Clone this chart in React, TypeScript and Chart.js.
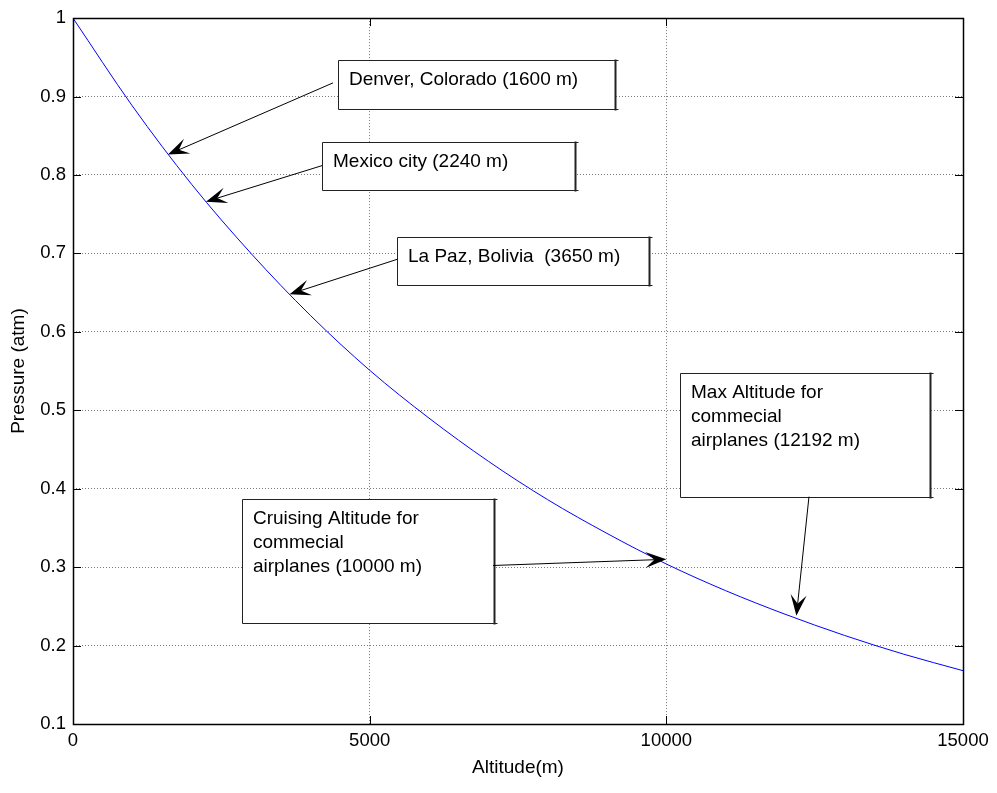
import React, { useEffect, useRef } from "react";
import { Chart, registerables } from "chart.js";

Chart.register(...registerables);

// Standard-atmosphere pressure versus altitude
const altitudeM = [0, 1000, 2000, 3000, 4000, 5000, 6000, 7000, 8000, 9000, 10000, 11000, 12000, 13000, 14000, 15000];
const pressureAtm = [1.0, 0.888, 0.788, 0.7, 0.621, 0.551, 0.49, 0.435, 0.386, 0.343, 0.304, 0.27, 0.24, 0.213, 0.189, 0.168];

const xTicks = [0, 5000, 10000, 15000];
const yTicks = [0.1, 0.2, 0.3, 0.4, 0.5, 0.6, 0.7, 0.8, 0.9, 1];

// Callout texts and the points on the curve they refer to
const calloutTexts = [
  ["Denver, Colorado (1600 m)"],
  ["Mexico city (2240 m)"],
  ["La Paz, Bolivia  (3650 m)"],
  ["Cruising Altitude for", "commecial", "airplanes (10000 m)"],
  ["Max Altitude for", "commecial", "airplanes (12192 m)"],
];
const calloutAltitude = [1600, 2240, 3650, 10000, 12192];
const calloutPressure = [0.826, 0.766, 0.648, 0.31, 0.238];

// Callout box extents and arrow tails, in axis units
const calloutLayout = [
  { x0: 4466, x1: 9135, y0: 0.9466, y1: 0.8843, tx: 4382, ty: 0.9174 },
  { x0: 4197, x1: 8461, y0: 0.8424, y1: 0.7814, tx: 4197, ty: 0.8119 },
  { x0: 5461, x1: 9708, y0: 0.7203, y1: 0.6593, tx: 5461, ty: 0.6924 },
  { x0: 2848, x1: 7096, y0: 0.3873, y1: 0.2284, tx: 7079, ty: 0.3021 },
  { x0: 10230, x1: 14444, y0: 0.5475, y1: 0.3898, tx: 12404, ty: 0.3898 },
];

const FONT_FAMILY = '"Liberation Sans", Arial, Helvetica, sans-serif';
const TICK_SIZE = 18.5;
const TEXT_SIZE = 19;

function drawArrow(ctx: CanvasRenderingContext2D, x0: number, y0: number, x1: number, y1: number) {
  const ang = Math.atan2(y1 - y0, x1 - x0);
  const ux = Math.cos(ang);
  const uy = Math.sin(ang);
  const px = -uy;
  const py = ux;
  const L = 21;
  const W = 8;
  const N = 12;
  ctx.save();
  ctx.strokeStyle = "#000";
  ctx.fillStyle = "#000";
  ctx.lineWidth = 1;
  ctx.beginPath();
  ctx.moveTo(x0, y0);
  ctx.lineTo(x1 - ux * N, y1 - uy * N);
  ctx.stroke();
  ctx.beginPath();
  ctx.moveTo(x1, y1);
  ctx.lineTo(x1 - ux * L + px * W, y1 - uy * L + py * W);
  ctx.lineTo(x1 - ux * N, y1 - uy * N);
  ctx.lineTo(x1 - ux * L - px * W, y1 - uy * L - py * W);
  ctx.closePath();
  ctx.fill();
  ctx.restore();
}

const calloutPlugin = {
  id: "callouts",
  afterDatasetsDraw(chart: any) {
    const { ctx, scales } = chart;
    const xs = scales.x;
    const ys = scales.y;
    calloutTexts.forEach((lines, i) => {
      const b = calloutLayout[i];
      const left = Math.round(xs.getPixelForValue(b.x0)) + 0.5;
      const right = Math.round(xs.getPixelForValue(b.x1)) + 0.5;
      const top = Math.round(ys.getPixelForValue(b.y0)) + 0.5;
      const bottom = Math.round(ys.getPixelForValue(b.y1)) + 0.5;
      ctx.save();
      ctx.fillStyle = "#fff";
      ctx.fillRect(left, top, right - left, bottom - top);
      ctx.strokeStyle = "#222";
      ctx.lineWidth = 1;
      ctx.beginPath();
      ctx.moveTo(right, top);
      ctx.lineTo(left, top);
      ctx.lineTo(left, bottom);
      ctx.lineTo(right, bottom);
      ctx.stroke();
      ctx.lineWidth = 2;
      ctx.beginPath();
      ctx.moveTo(right, top - 1);
      ctx.lineTo(right, bottom + 1);
      ctx.stroke();
      ctx.lineWidth = 1;
      ctx.beginPath();
      ctx.moveTo(right, top);
      ctx.lineTo(right + 3, top);
      ctx.moveTo(right, bottom);
      ctx.lineTo(right + 3, bottom);
      ctx.stroke();
      ctx.fillStyle = "#000";
      ctx.font = `${TEXT_SIZE}px ${FONT_FAMILY}`;
      ctx.textAlign = "left";
      ctx.textBaseline = "alphabetic";
      lines.forEach((t, k) => {
        ctx.fillText(t, left + 10.5, top + 24.5 + k * 24);
      });
      ctx.restore();
      drawArrow(
        ctx,
        xs.getPixelForValue(b.tx),
        ys.getPixelForValue(b.ty),
        xs.getPixelForValue(calloutAltitude[i]),
        ys.getPixelForValue(calloutPressure[i])
      );
    });
  },
  afterDraw(chart: any) {
    const { ctx, chartArea: a, scales } = chart;
    const xs = scales.x;
    const ys = scales.y;
    const T = 8;
    ctx.save();
    ctx.strokeStyle = "#000";
    ctx.lineWidth = 1;
    ctx.beginPath();
    xTicks.forEach((v) => {
      const px = Math.round(xs.getPixelForValue(v)) + 0.5;
      ctx.moveTo(px, a.bottom);
      ctx.lineTo(px, a.bottom - T);
      ctx.moveTo(px, a.top);
      ctx.lineTo(px, a.top + T);
    });
    yTicks.forEach((v) => {
      const py = Math.round(ys.getPixelForValue(v)) + 0.5;
      ctx.moveTo(a.left, py);
      ctx.lineTo(a.left + T, py);
      ctx.moveTo(a.right, py);
      ctx.lineTo(a.right - T, py);
    });
    ctx.stroke();
    ctx.lineWidth = 1.5;
    ctx.strokeRect(Math.round(a.left) + 0.5, Math.round(a.top) + 0.5, Math.round(a.right - a.left), Math.round(a.bottom - a.top));
    ctx.restore();
  },
};

export default function App() {
  const canvasRef = useRef<HTMLCanvasElement | null>(null);

  useEffect(() => {
    const canvas = canvasRef.current;
    if (!canvas) return;
    const tickFont = { family: FONT_FAMILY, size: TICK_SIZE };
    const titleFont = { family: FONT_FAMILY, size: TEXT_SIZE };
    const chart = new Chart(canvas, {
      type: "line",
      data: {
        datasets: [
          {
            data: altitudeM.map((h, i) => ({ x: h, y: pressureAtm[i] })),
            borderColor: "#0000ff",
            borderWidth: 1,
            pointRadius: 0,
            cubicInterpolationMode: "monotone",
            fill: false,
          },
        ],
      },
      options: {
        responsive: false,
        animation: false,
        devicePixelRatio: 1,
        layout: { padding: { top: 16, right: 34, left: 0, bottom: 0 } },
        plugins: { legend: { display: false }, tooltip: { enabled: false } },
        scales: {
          x: {
            type: "linear",
            min: 0,
            max: 15000,
            afterFit: (s: any) => {
              s.height = 69;
            },
            afterBuildTicks: (s: any) => {
              s.ticks = xTicks.map((v) => ({ value: v }));
            },
            ticks: {
              font: tickFont,
              color: "#000",
              padding: 6,
              maxRotation: 0,
              callback: (v: any) => String(v),
            },
            grid: { color: "#7a7a7a", lineWidth: 1, drawTicks: false },
            border: { display: false, dash: [1, 2] },
            title: {
              display: true,
              text: "Altitude(m)",
              font: titleFont,
              color: "#000",
              padding: { top: 0, bottom: 14 },
            },
          },
          y: {
            type: "linear",
            min: 0.1,
            max: 1,
            afterFit: (s: any) => {
              s.width = 73;
            },
            afterBuildTicks: (s: any) => {
              s.ticks = yTicks.map((v) => ({ value: v }));
            },
            ticks: {
              font: tickFont,
              color: "#000",
              padding: 7,
              callback: (v: any) => String(Number(Number(v).toFixed(1))),
            },
            grid: { color: "#7a7a7a", lineWidth: 1, drawTicks: false },
            border: { display: false, dash: [1, 2] },
            title: {
              display: true,
              text: "Pressure (atm)",
              font: titleFont,
              color: "#000",
              padding: { top: 7, bottom: 0 },
            },
          },
        },
      },
      plugins: [calloutPlugin],
    } as any);
    return () => chart.destroy();
  }, []);

  return (
    <div style={{ position: "fixed", left: 0, top: 0, width: 997, height: 793, background: "#fff" }}>
      <canvas ref={canvasRef} width={997} height={793} style={{ display: "block" }} />
    </div>
  );
}
